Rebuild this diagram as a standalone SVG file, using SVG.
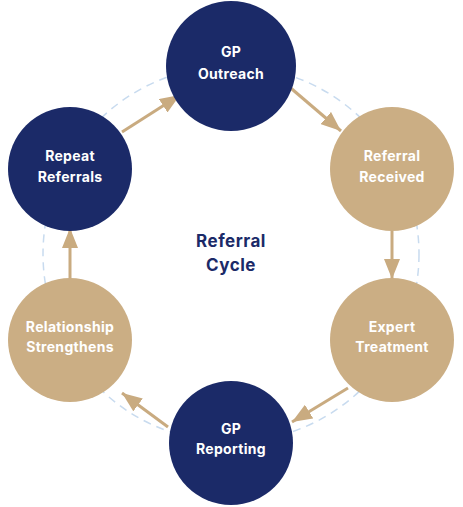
<svg xmlns="http://www.w3.org/2000/svg" width="463" height="507" viewBox="0 0 463 507">
<style>
.navy{fill:#1b2a68}
.tan{fill:#cbae84}
.lbl{font-family:Inter,"Open Sans","Liberation Sans",sans-serif;font-weight:700;font-size:14px;letter-spacing:0.3px;fill:#ffffff;text-anchor:middle}
.ctr{font-family:Inter,"Open Sans","Liberation Sans",sans-serif;font-weight:700;font-size:17px;letter-spacing:0.5px;fill:#1b2a68;text-anchor:middle}
.arr{stroke:#c9ab80;stroke-width:3;fill:none;marker-end:url(#ah)}
</style>
<defs>
<marker id="ah" markerUnits="userSpaceOnUse" markerWidth="20" markerHeight="16" refX="20" refY="8" orient="auto">
<path d="M0,0 L20,8 L0,16 z" fill="#c9ab80"/>
</marker>
</defs>
<rect width="463" height="507" fill="#ffffff"/>
<circle cx="231" cy="254" r="188" fill="none" stroke="#c8dbef" stroke-width="1.5" stroke-dasharray="8 6"/>
<g id="connectors">
<line class="arr" x1="286" y1="84" x2="341" y2="131"/>
<line class="arr" x1="392" y1="231" x2="392" y2="279"/>
<line class="arr" x1="348" y1="388" x2="292" y2="422"/>
<line class="arr" x1="168" y1="427" x2="122" y2="393"/>
<line class="arr" x1="70" y1="279" x2="70" y2="228"/>
<line class="arr" x1="122" y1="132" x2="180" y2="95"/>
</g>
<g id="gp-outreach">
<circle class="navy" cx="231" cy="66" r="65"/>
<text class="lbl" x="231" y="57">GP</text>
<text class="lbl" x="231" y="79">Outreach</text>
</g>
<g id="referral-received">
<circle class="tan" cx="392" cy="169" r="62"/>
<text class="lbl" x="392" y="161">Referral</text>
<text class="lbl" x="392" y="182">Received</text>
</g>
<g id="expert-treatment">
<circle class="tan" cx="392" cy="340" r="62"/>
<text class="lbl" x="392" y="332">Expert</text>
<text class="lbl" x="392" y="352">Treatment</text>
</g>
<g id="gp-reporting">
<circle class="navy" cx="231" cy="443" r="62"/>
<text class="lbl" x="231" y="434">GP</text>
<text class="lbl" x="231" y="454">Reporting</text>
</g>
<g id="relationship-strengthens">
<circle class="tan" cx="70" cy="340" r="62"/>
<text class="lbl" x="70" y="332">Relationship</text>
<text class="lbl" x="70" y="352">Strengthens</text>
</g>
<g id="repeat-referrals">
<circle class="navy" cx="70" cy="169" r="62"/>
<text class="lbl" x="70" y="161">Repeat</text>
<text class="lbl" x="70" y="182">Referrals</text>
</g>
<g id="center-label">
<text class="ctr" x="231" y="247">Referral</text>
<text class="ctr" x="231" y="271">Cycle</text>
</g>
</svg>
